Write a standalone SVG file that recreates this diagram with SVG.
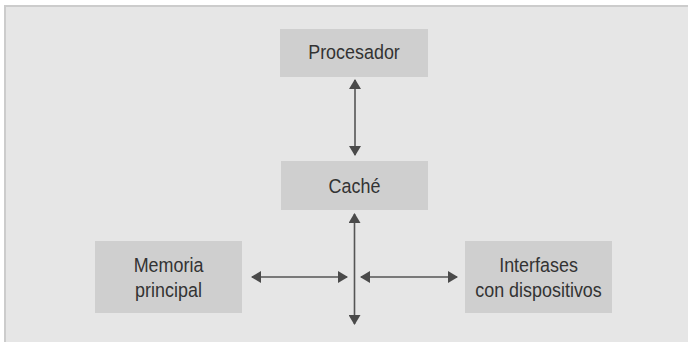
<svg xmlns="http://www.w3.org/2000/svg" width="688" height="342" viewBox="0 0 688 342">
  <style>
    .box { fill: #cfcfcf; }
    .label { font-family: "Liberation Sans", Arial, sans-serif; font-size: 19.5px; fill: #333333; text-anchor: middle; }
    .link { stroke: #555555; stroke-width: 1.6; fill: none; marker-start: url(#head); marker-end: url(#head); }
  </style>
  <defs>
    <marker id="head" viewBox="0 0 10 12" refX="9" refY="6" markerWidth="10" markerHeight="12" markerUnits="userSpaceOnUse" orient="auto-start-reverse">
      <path d="M0,0 L10,6 L0,12 Z" fill="#4a4a4a"/>
    </marker>
  </defs>

  <!-- background panel -->
  <rect x="0" y="0" width="688" height="342" fill="#ffffff"/>
  <rect x="5" y="6" width="690" height="345" fill="#e6e6e6" stroke="#cccccc" stroke-width="2"/>

  <!-- labels use a slightly narrowed sans to get a condensed look -->
  <g id="procesador">
    <rect class="box" x="280" y="29" width="148" height="48"/>
    <text class="label" transform="translate(354,59) scale(0.92,1)">Procesador</text>
  </g>

  <g id="cache">
    <rect class="box" x="281" y="161" width="147" height="49"/>
    <text class="label" transform="translate(354.5,193) scale(0.92,1)">Caché</text>
  </g>

  <g id="memoria">
    <rect class="box" x="95" y="241" width="147" height="72"/>
    <text class="label" transform="translate(168.5,272) scale(0.92,1)">Memoria</text>
    <text class="label" transform="translate(168.5,297) scale(0.92,1)">principal</text>
  </g>

  <g id="interfases">
    <rect class="box" x="465" y="241" width="147" height="72"/>
    <text class="label" transform="translate(538.5,272) scale(0.92,1)">Interfases</text>
    <text class="label" transform="translate(538.5,297) scale(0.92,1)">con dispositivos</text>
  </g>

  <g id="connectors">
    <line class="link" x1="355" y1="80" x2="355" y2="155"/>
    <line class="link" x1="354.5" y1="214" x2="354.5" y2="324"/>
    <line class="link" x1="252" y1="277" x2="347" y2="277"/>
    <line class="link" x1="361" y1="277" x2="457" y2="277"/>
  </g>
</svg>
